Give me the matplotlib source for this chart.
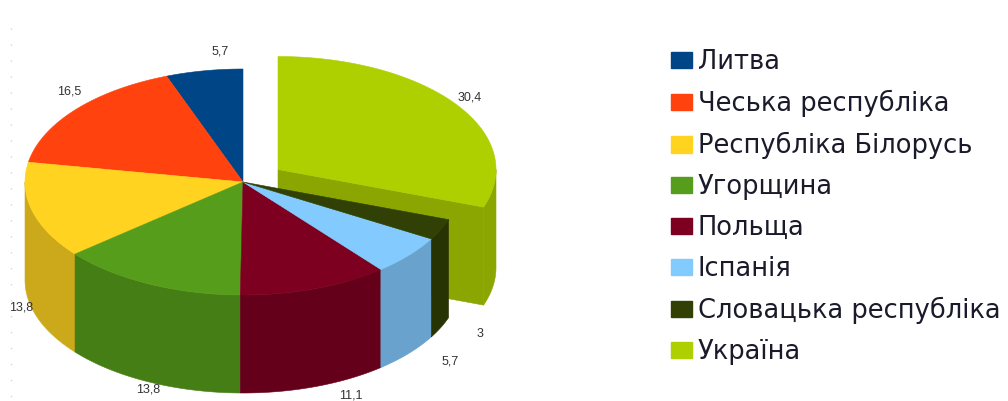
import numpy as np
import matplotlib
matplotlib.use('Agg')
import matplotlib.pyplot as plt
from matplotlib.patches import Polygon, Patch
from matplotlib.colors import to_rgb

plt.rcParams['font.family'] = ['Liberation Sans', 'DejaVu Sans']

countries = ['Литва', 'Чеська республіка', 'Республіка Білорусь', 'Угорщина',
             'Польща', 'Іспанія', 'Словацька республіка', 'Україна']
values = [5.7, 16.5, 13.8, 13.8, 11.1, 5.7, 3, 30.4]
colors = ['#004586', '#ff420e', '#ffd320', '#579d1c',
          '#7e0021', '#83caff', '#314004', '#aecf00']

# where the value labels sit, in pixels
label_pos = [(220, 51), (69, 92), (21, 307), (148, 390),
             (351, 396), (450, 361), (480, 334), (470, 97)]

# pie geometry in pixels
cx, cy = 243, 182
rx, ry = 218, 113
depth = 98
explode = (35, -12.5)  # offset of the last slice
shade = 0.8


def arc(t0, t1, ox=0, oy=0, drop=0):
    # t is degrees counter-clockwise from the top of the pie
    t = np.radians(np.linspace(t0, t1, 120))
    return np.column_stack([cx + ox - rx * np.sin(t),
                            cy + oy + drop - ry * np.cos(t)])


def dark(c):
    return tuple(v * shade for v in to_rgb(c))


def add(ax, pts, color):
    ax.add_patch(Polygon(pts, closed=True, facecolor=color, edgecolor=color, linewidth=0.4))


def draw_wall(ax, t0, t1, color, ox=0, oy=0):
    # outer wall only shows on the front half
    a, b = max(t0, 90), min(t1, 270)
    if a >= b:
        return
    top = arc(a, b, ox, oy)
    bottom = arc(a, b, ox, oy, depth)
    add(ax, np.vstack([top, bottom[::-1]]), dark(color))


def draw_top(ax, t0, t1, color, ox=0, oy=0):
    add(ax, np.vstack([[cx + ox, cy + oy], arc(t0, t1, ox, oy)]), color)


fig = plt.figure(figsize=(10.08, 4.01), dpi=100)
ax = fig.add_axes([0, 0, 1, 1])
ax.set_xlim(0, 1008)
ax.set_ylim(401, 0)
ax.axis('off')

# faint dotted line down the left side of the source image
ax.plot([11, 11], [28, 398], color='#d8d8d8', lw=1, linestyle=(0, (1, 10.5)))

edges = np.cumsum([0] + values) / sum(values) * 360

# exploded slice goes first, the rest of the pie covers it
t0, t1 = edges[-2], edges[-1]
ox, oy = explode
end = arc(t0, t0, ox, oy)[0]
apex = np.array([cx + ox, cy + oy])
add(ax, [apex, end, end + [0, depth], apex + [0, depth]], dark(colors[-1]))
draw_wall(ax, t0, t1, colors[-1], ox, oy)
draw_top(ax, t0, t1, colors[-1], ox, oy)

for i in range(len(values) - 1):
    draw_wall(ax, edges[i], edges[i + 1], colors[i])
for i in range(len(values) - 1):
    draw_top(ax, edges[i], edges[i + 1], colors[i])

for v, (x, y) in zip(values, label_pos):
    ax.text(x, y, str(v).replace('.', ','), fontsize=9, color='#333333',
            ha='center', va='center')

# DejaVu is used here because the legend text in the source is stretched wide
handles = [Patch(facecolor=c, edgecolor=c) for c in colors]
ax.legend(handles, countries, loc='upper left', bbox_to_anchor=(671 / 1008, 1 - 49 / 401),
          frameon=False, prop={'family': 'DejaVu Sans', 'size': 18.5},
          handlelength=0.8, handleheight=0.62, handletextpad=0.25,
          labelspacing=0.58, borderpad=0, borderaxespad=0, labelcolor='#1a1a2a')

fig.savefig('out.png', dpi=100)
